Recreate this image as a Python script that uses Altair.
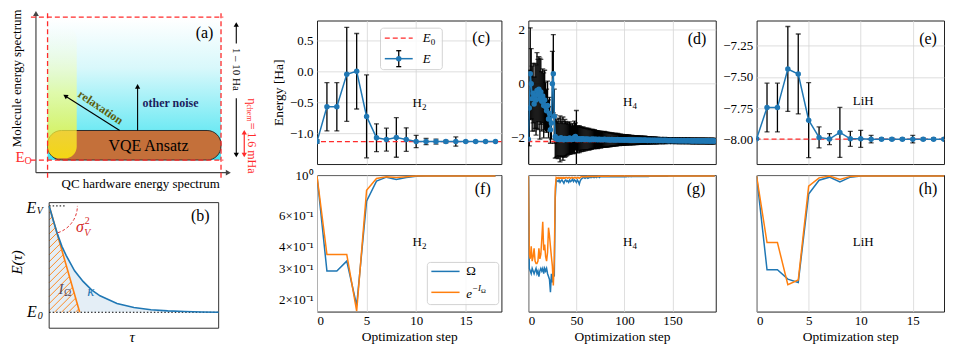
import altair as alt
import numpy as np
import pandas as pd

FONT = "Liberation Serif"
BLUE = "#1f77b4"
ORANGE = "#ff7f0e"
RED = "#ff2b2b"
GRID = "#d6d6d6"

# ---------------- data: energies (panels c, d, e) ----------------
H2_E = [-1.137, -0.575, -0.575, -0.050, 0.000, -0.730, -1.075, -1.105, -1.070, -1.105,
        -1.135, -1.137, -1.137, -1.137, -1.137, -1.137, -1.137, -1.137, -1.137]
H2_ERR = [0.03, 0.39, 0.39, 0.76, 0.61, 0.67, 0.225, 0.185, 0.32, 0.19,
          0.10, 0.05, 0.04, 0.02, 0.075, 0.01, 0.01, 0.01, 0.01]
H2_E0 = -1.137

LIH_E = [-7.995, -7.745, -7.745, -7.436, -7.476, -7.846, -7.984, -7.997, -7.944, -7.995,
         -7.995, -7.998, -7.998, -7.998, -7.998, -7.998, -7.998, -7.998, -7.998]
LIH_ERR = [0.005, 0.195, 0.195, 0.34, 0.32, 0.30, 0.084, 0.044, 0.20, 0.06,
           0.068, 0.03, 0.01, 0.01, 0.01, 0.03, 0.01, 0.01, 0.01]
LIH_E0 = -7.998

H4_E = [-2.05, -0.90, 0.37, 0.00, -0.55, -0.35, -0.75, -0.45, -0.60, -0.25,
        -0.40, -0.20, -0.55, -0.30, -0.65, -0.45, -0.80, -0.60, -0.85, -1.00,
        -0.80, -1.30, -1.10, -1.70, -1.45, 0.00, 0.37, -1.20, -1.95, -2.03,
        -2.05, -2.02, -2.06, -2.04, -2.00, -2.05, -2.03, -2.07, -2.02, -2.04,
        -2.06, -2.03, -2.05, -2.01, -2.04, -2.06, -2.03, -2.05, -1.98, -1.95,
        -2.04, -2.06, -2.03, -2.05, -2.04, -2.06, -2.03, -2.05, -2.04, -2.06,
        -2.05, -2.04, -2.06, -2.05, -2.07, -2.05, -2.06, -2.04, -2.06, -2.05,
        -2.06, -2.05, -2.07, -2.06, -2.05, -2.07, -2.06, -2.06, -2.07, -2.05,
        -2.06, -2.07, -2.06, -2.07, -2.06, -2.08, -2.07, -2.06, -2.07, -2.08,
        -2.07, -2.07, -2.08, -2.06, -2.07, -2.08, -2.07, -2.08, -2.07, -2.08,
        -2.08, -2.07, -2.08, -2.08, -2.07, -2.08, -2.09, -2.08, -2.08, -2.09,
        -2.08, -2.09, -2.08, -2.09, -2.08, -2.09, -2.09, -2.08, -2.09, -2.09,
        -2.09, -2.08, -2.09, -2.09, -2.10, -2.09, -2.09, -2.10, -2.09, -2.10,
        -2.09, -2.10, -2.09, -2.10, -2.10, -2.09, -2.10, -2.10, -2.09, -2.10,
        -2.10, -2.10, -2.09, -2.10, -2.10, -2.10, -2.11, -2.10, -2.10, -2.10,
        -2.11, -2.10, -2.10, -2.11, -2.10, -2.11, -2.10, -2.11, -2.11, -2.10,
        -2.11, -2.11, -2.10, -2.11, -2.11, -2.11, -2.10, -2.11, -2.11, -2.11,
        -2.11, -2.12, -2.11, -2.11, -2.11, -2.12, -2.11, -2.11, -2.12, -2.11,
        -2.12, -2.11, -2.11, -2.12, -2.11, -2.12, -2.12, -2.11, -2.12, -2.12,
        -2.12, -2.11, -2.12, -2.12, -2.12]
H4_ERR = [1.20, 1.40, 1.70, 1.30, 1.20, 1.10, 1.00, 1.20, 1.30, 1.40,
          1.30, 1.20, 1.50, 1.20, 1.10, 1.00, 1.20, 1.10, 0.90, 0.80,
          0.90, 0.70, 0.60, 0.50, 0.60, 1.20, 1.45, 1.00, 0.80, 0.70,
          0.65, 0.75, 0.60, 0.85, 0.70, 0.65, 0.80, 0.60, 0.70, 0.65,
          0.60, 0.60, 0.55, 0.60, 0.55, 0.50, 0.55, 0.50, 0.60, 0.50,
          1.05, 0.50, 0.45, 0.50, 0.45, 0.45, 0.42, 0.45, 0.40, 0.42,
          0.40, 0.40, 0.38, 0.40, 0.37, 0.36, 0.37, 0.35, 0.34, 0.35,
          0.33, 0.32, 0.33, 0.31, 0.30, 0.31, 0.30, 0.29, 0.28, 0.29,
          0.28, 0.27, 0.27, 0.26, 0.26, 0.25, 0.25, 0.24, 0.24, 0.23,
          0.23, 0.23, 0.22, 0.22, 0.21, 0.21, 0.21, 0.20, 0.20, 0.20,
          0.19, 0.19, 0.19, 0.18, 0.18, 0.18, 0.17, 0.17, 0.17, 0.17,
          0.16, 0.16, 0.16, 0.16, 0.15, 0.15, 0.15, 0.15, 0.14, 0.14,
          0.14, 0.14, 0.14, 0.13, 0.13, 0.13, 0.13, 0.13, 0.12, 0.12,
          0.12, 0.12, 0.12, 0.12, 0.12, 0.11, 0.11, 0.11, 0.11, 0.11,
          0.11, 0.11, 0.11, 0.11, 0.10, 0.10, 0.10, 0.10, 0.10, 0.10,
          0.10, 0.10, 0.10, 0.10, 0.10, 0.10, 0.10, 0.10, 0.10, 0.10,
          0.10, 0.10, 0.10, 0.10, 0.10, 0.10, 0.10, 0.10, 0.10, 0.10,
          0.10, 0.10, 0.10, 0.10, 0.10, 0.10, 0.10, 0.10, 0.10, 0.10,
          0.10, 0.10, 0.10, 0.10, 0.10, 0.10, 0.10, 0.10, 0.10, 0.10,
          0.10, 0.10, 0.10, 0.10, 0.10]
H4_E0 = -2.136

# ---------------- data: fidelities (panels f, g, h) ----------------
H2_OMEGA = [1.0, 0.29, 0.29, 0.33, 0.185, 0.72, 0.935, 0.985, 0.956, 0.98,
            0.998, 1.0, 1.0, 1.0, 1.0, 1.0, 1.0, 1.0, 1.0]
H2_EXPI = [1.0, 0.36, 0.36, 0.36, 0.172, 0.83, 0.968, 0.99, 0.98, 0.99,
           1.0, 1.0, 1.0, 1.0, 1.0, 1.0, 1.0, 1.0, 1.0]
LIH_OMEGA = [1.0, 0.295, 0.295, 0.261, 0.25, 0.79, 0.947, 0.985, 0.927, 0.985,
             1.0, 1.0, 1.0, 1.0, 1.0, 1.0, 1.0, 1.0, 1.0]
LIH_EXPI = [1.0, 0.42, 0.42, 0.243, 0.258, 0.876, 0.976, 1.0, 0.956, 0.995,
            1.0, 1.0, 1.0, 1.0, 1.0, 1.0, 1.0, 1.0, 1.0]
H4_OMEGA = [1.00, 0.30, 0.29, 0.28, 0.30, 0.29, 0.28, 0.29, 0.30, 0.28,
            0.29, 0.27, 0.29, 0.30, 0.29, 0.30, 0.28, 0.30, 0.29, 0.30,
            0.28, 0.27, 0.26, 0.22, 0.28, 0.25, 0.29, 0.27, 0.75, 0.95,
            0.94, 0.93, 0.95, 0.92, 0.94, 0.95, 0.93, 0.91, 0.94, 0.95,
            0.93, 0.94, 0.92, 0.95, 0.93, 0.94, 0.96, 0.93, 0.95, 0.94,
            0.92, 0.95, 0.93, 0.90, 0.94, 0.96, 0.97, 0.98, 0.98, 0.97,
            0.98, 0.98, 0.97, 0.98, 0.98, 0.98, 0.98, 0.99, 0.98, 0.98,
            0.99, 0.98, 0.99, 0.99, 0.98, 0.99, 0.99, 0.99, 0.99, 0.99,
            0.99, 0.99, 0.99, 0.99, 0.99, 0.99, 0.99, 0.99, 0.99, 0.99,
            0.99, 0.99, 0.99, 0.99, 0.99, 0.99, 0.99, 0.99, 0.99, 0.99,
            0.99, 0.99, 0.99, 0.995, 0.99, 0.995, 0.995, 0.99, 0.995, 0.995,
            0.995, 0.995, 0.995, 0.995, 0.995, 0.995, 0.995, 0.995, 0.995, 0.995,
            0.995, 0.995, 0.995, 0.995, 0.998, 0.995, 0.998, 0.998, 0.998, 0.998,
            0.998, 0.998, 0.998, 0.998, 0.998, 0.998, 0.998, 0.998, 0.998, 0.998,
            0.998, 0.998, 0.998, 0.998, 0.998, 0.998, 1.0, 1.0, 1.0, 1.0,
            1.0, 1.0, 1.0, 1.0, 1.0, 1.0, 1.0, 1.0, 1.0, 1.0,
            1.0, 1.0, 1.0, 1.0, 1.0, 1.0, 1.0, 1.0, 1.0, 1.0,
            1.0, 1.0, 1.0, 1.0, 1.0, 1.0, 1.0, 1.0, 1.0, 1.0,
            1.0, 1.0, 1.0, 1.0, 1.0, 1.0, 1.0, 1.0, 1.0, 1.0,
            1.0, 1.0, 1.0, 1.0, 1.0]
H4_EXPI = [1.00, 0.36, 0.34, 0.40, 0.33, 0.35, 0.39, 0.33, 0.32, 0.32,
           0.33, 0.39, 0.34, 0.36, 0.44, 0.55, 0.38, 0.41, 0.35, 0.33,
           0.37, 0.51, 0.46, 0.40, 0.35, 0.31, 0.24, 0.33, 0.85, 0.98,
           0.97, 0.98, 0.97, 0.98, 0.97, 0.98, 0.97, 0.98, 0.97, 0.98,
           0.98, 0.97, 0.98, 0.98, 0.97, 0.98, 0.98, 0.97, 0.98, 0.98,
           0.97, 0.98, 0.98, 0.97, 0.98, 0.99, 0.99, 0.99, 0.99, 0.99,
           0.99, 0.99, 0.995, 0.99, 0.995, 0.995, 0.995, 0.995, 0.995, 0.995,
           0.995, 0.995, 0.995, 0.998, 0.998, 0.998, 0.998, 0.998, 0.998, 0.998,
           0.998, 0.998, 0.998, 0.998, 0.998, 1.0, 1.0, 1.0, 1.0, 1.0,
           1.0, 1.0, 1.0, 1.0, 1.0, 1.0, 1.0, 1.0, 1.0, 1.0,
           1.0, 1.0, 1.0, 1.0, 1.0, 1.0, 1.0, 1.0, 1.0, 1.0,
           1.0, 1.0, 1.0, 1.0, 1.0, 1.0, 1.0, 1.0, 1.0, 1.0,
           1.0, 1.0, 1.0, 1.0, 1.0, 1.0, 1.0, 1.0, 1.0, 1.0,
           1.0, 1.0, 1.0, 1.0, 1.0, 1.0, 1.0, 1.0, 1.0, 1.0,
           1.0, 1.0, 1.0, 1.0, 1.0, 1.0, 1.0, 1.0, 1.0, 1.0,
           1.0, 1.0, 1.0, 1.0, 1.0, 1.0, 1.0, 1.0, 1.0, 1.0,
           1.0, 1.0, 1.0, 1.0, 1.0, 1.0, 1.0, 1.0, 1.0, 1.0,
           1.0, 1.0, 1.0, 1.0, 1.0, 1.0, 1.0, 1.0, 1.0, 1.0,
           1.0, 1.0, 1.0, 1.0, 1.0, 1.0, 1.0, 1.0, 1.0, 1.0,
           1.0, 1.0, 1.0, 1.0, 1.0]
FID_DOM = [0.171, 1.013]
FID_TICKS = [0.2, 0.3, 0.4, 0.6, 1.0]

# ---------------- schematic (a): diagram units ----------------
A_XDOM = [-0.2224, 0.9845]
A_YDOM = [-0.0279, 0.9770]
A_DASH = dict(x1=[-0.096, -0.096, 0.0, 1.0], y1=[1.0, 0.0, -0.1235, -0.1235],
              x2=[1.013, 1.013, 0.0, 1.0], y2=[1.0, 0.0, 1.04, 1.04])
A_AXES = dict(x1=[-0.067, -0.067], y1=[-0.0886, -0.0886], x2=[-0.067, 1.042], y2=[1.026, -0.0886])
A_ARROWS = dict(x1=[0.416, 0.519, 1.088, 1.088], y1=[0.207, 0.207, 0.816, 0.433],
                x2=[0.102, 0.519, 1.088, 1.088], y2=[0.449, 0.516, 0.949, 0.035])
A_HEADS = dict(x=[-0.067, 1.042, 0.102, 0.519, 1.088, 1.088],
               y=[1.026, -0.0886, 0.449, 0.516, 0.949, 0.035],
               ang=[0, 90, 302.5, 0, 0, 180])
A_RED_ARROW = dict(x1=[1.134], y1=[0.195], x2=[1.134], y2=[0.035])
A_RED_HEADS = dict(x=[1.134, 1.134], y=[0.195, 0.035], ang=[0, 180])

# ---------------- schematic (b) ----------------
B_XDOM = [-0.237, 0.998]
B_YDOM = [0.0066, 1.2905]
B_TAU = [0, 0.025, 0.05, 0.075, 0.1, 0.15, 0.2, 0.25, 0.3, 0.4, 0.5, 0.6, 0.7, 0.8, 0.9, 1.0]
B_ENERGY = [1.0, 0.86, 0.73, 0.62, 0.535, 0.39, 0.29, 0.21, 0.155, 0.083, 0.045, 0.024, 0.013, 0.007, 0.003, 0.0]
B_OMEGA_END = 0.18

ONE = pd.DataFrame({"k": [0]})

AXIS_FONT = dict(labelFont=FONT, titleFont=FONT, labelFontSize=13, titleFontSize=13.5,
                 labelColor="black", titleColor="black", titleFontWeight="normal", labelFontWeight="normal")


def ptext(t, x, y, size=13, color="black", style="normal", align="center", weight="normal", angle=0):
    return alt.Chart(ONE).mark_text(text=t, font=FONT, fontSize=size, color=color, fontStyle=style,
                                    align=align, baseline="middle", fontWeight=weight, angle=angle
                                    ).encode(x=alt.value(x), y=alt.value(y))


def make_xy(xdom, ydom):
    def X(f):
        return alt.X(f, scale=alt.Scale(domain=xdom, nice=False, zero=False), axis=None)

    def Y(f):
        return alt.Y(f, scale=alt.Scale(domain=ydom, nice=False, zero=False), axis=None)
    return X, Y


def dtext(X, Y, t, x, y, size=13, color="black", style="normal", weight="normal", angle=0, align="center"):
    return alt.Chart(pd.DataFrame({"x": [x], "y": [y]})).mark_text(
        text=t, font=FONT, fontSize=size, color=color, fontStyle=style, fontWeight=weight,
        angle=angle, align=align, baseline="middle").encode(x=X("x:Q"), y=Y("y:Q"))


def segs(X, Y, d, color, width, dash=None):
    kw = dict(color=color, strokeWidth=width)
    if dash:
        kw["strokeDash"] = dash
    return alt.Chart(pd.DataFrame(d)).mark_rule(**kw).encode(x=X("x1:Q"), y=Y("y1:Q"), x2="x2:Q", y2="y2:Q")


def heads(X, Y, d, color, size=30):
    return alt.Chart(pd.DataFrame(d)).mark_point(shape="triangle-up", filled=True, color=color, size=size,
                                                 opacity=1).encode(
        x=X("x:Q"), y=Y("y:Q"), angle=alt.Angle("ang:Q", scale=None))


# ---------------- panel (a) ----------------
AX, AY = make_xy(A_XDOM, A_YDOM)
cyan_grad = {"gradient": "linear", "x1": 0, "x2": 0, "y1": 0, "y2": 1,
             "stops": [{"offset": 0, "color": "#ffffff"}, {"offset": 0.35, "color": "#d8f8fb"},
                       {"offset": 1, "color": "#3fe3f0"}]}
yellow_grad = {"gradient": "linear", "x1": 0, "x2": 0, "y1": 0, "y2": 1,
               "stops": [{"offset": 0, "color": "rgba(255,255,220,0.0)"},
                         {"offset": 0.5, "color": "rgba(255,255,120,0.6)"},
                         {"offset": 1, "color": "rgba(255,240,10,0.8)"}]}
a_layers = [
    alt.Chart(pd.DataFrame({"x1": [0.0], "x2": [1.0], "y1": [0.0], "y2": [0.99]})).mark_rect(fill=cyan_grad).encode(
        x=AX("x1:Q"), x2="x2:Q", y=AY("y1:Q"), y2="y2:Q"),
    alt.Chart(pd.DataFrame({"x1": [0.0], "x2": [1.0], "y1": [0.0], "y2": [0.207]})).mark_rect(
        fill="#c4703a", stroke="#2b2b2b", strokeWidth=1, cornerRadius=14).encode(
        x=AX("x1:Q"), x2="x2:Q", y=AY("y1:Q"), y2="y2:Q"),
    alt.Chart(pd.DataFrame({"x1": [0.0], "x2": [0.168], "y1": [0.012], "y2": [0.935]})).mark_rect(
        fill=yellow_grad, cornerRadius=12).encode(x=AX("x1:Q"), x2="x2:Q", y=AY("y1:Q"), y2="y2:Q"),
    segs(AX, AY, A_AXES, "#444444", 1.2),
    heads(AX, AY, dict(x=A_HEADS["x"][:2], y=A_HEADS["y"][:2], ang=A_HEADS["ang"][:2]), "#444444", 34),
    segs(AX, AY, A_ARROWS, "black", 1.1),
    heads(AX, AY, dict(x=A_HEADS["x"][2:], y=A_HEADS["y"][2:], ang=A_HEADS["ang"][2:]), "black", 28),
    segs(AX, AY, A_RED_ARROW, RED, 1.2),
    heads(AX, AY, A_RED_HEADS, RED, 28),
    segs(AX, AY, A_DASH, RED, 1.3, [5, 3]),
    dtext(AX, AY, "VQE Ansatz", 0.582, 0.098, size=16),
    dtext(AX, AY, "(a)", 0.905, 0.886, size=16),
    dtext(AX, AY, "relaxation", 0.306, 0.37, size=12, weight="bold", color="#5c5c0a", angle=34),
    dtext(AX, AY, "other noise", 0.709, 0.398, size=12, weight="bold", color="#1c1c5c"),
    dtext(AX, AY, "1 – 10 Ha", 1.088, 0.635, size=11, angle=90),
    dtext(AX, AY, "Molecule energy spectrum", -0.177, 0.572, size=13, angle=270),
    dtext(AX, AY, "QC hardware energy spectrum", 0.537, -0.1675, size=13),
    dtext(AX, AY, "E", -0.159, 0.021, size=15, color=RED),
    dtext(AX, AY, "O", -0.113, -0.007, size=10, color=RED),
    dtext(AX, AY, "η", 1.18, 0.4327, size=12, color=RED, angle=90, align="left"),
    dtext(AX, AY, "chem", 1.163, 0.391, size=8, color=RED, angle=90, align="left"),
    dtext(AX, AY, "= 1.6 mHa", 1.18, 0.262, size=12, color=RED, angle=90, align="left"),
]
panel_a = alt.layer(*a_layers).properties(width=210, height=144, view=alt.ViewBackground(stroke="transparent"))

# ---------------- panel (b) ----------------
BX, BY = make_xy(B_XDOM, B_YDOM)
kslope = 170 / 106.7
hx1, hy1, hx2, hy2 = [], [], [], []
for c in np.arange(-1 / kslope, B_OMEGA_END, 7 / 170)[1:]:
    if c >= 0:
        x1, y1 = c, 0.0
    else:
        x1, y1 = 0.0, -kslope * c
    x2 = (1 + kslope * c) / (kslope + 1 / B_OMEGA_END)
    y2 = 1 - x2 / B_OMEGA_END
    hx1.append(x1); hy1.append(y1); hx2.append(x2); hy2.append(y2)
theta = np.radians(np.linspace(0, 72, 16))
arc = pd.DataFrame({"x": 28.3 * np.cos(theta) / 170, "y": 1 - 28.3 * np.sin(theta) / 106.7})
curve = pd.DataFrame({"x": B_TAU, "y": B_ENERGY})
b_layers = [
    alt.Chart(curve).mark_area(color=BLUE, opacity=0.12).encode(x=BX("x:Q"), y=BY("y:Q"), y2=alt.datum(0)),
    segs(BX, BY, dict(x1=hx1, y1=hy1, x2=hx2, y2=hy2), ORANGE, 0.9),
    alt.Chart(pd.DataFrame({"x1": [0.0], "x2": [1.0], "y1": [-0.15], "y2": [1.031]})).mark_rect(
        fill="transparent", stroke="#333333", strokeWidth=1).encode(x=BX("x1:Q"), x2="x2:Q", y=BY("y1:Q"), y2="y2:Q"),
    segs(BX, BY, dict(x1=[0.0, 0.0], y1=[0.0, 1.0], x2=[1.0, 0.1], y2=[0.0, 1.0]), "black", 1, [1.5, 2]),
    alt.Chart(pd.DataFrame({"x": [0.0, B_OMEGA_END], "y": [1.0, 0.0]})).mark_line(color=ORANGE, strokeWidth=1.6).encode(
        x=BX("x:Q"), y=BY("y:Q")),
    alt.Chart(curve).mark_line(color=BLUE, strokeWidth=1.6).encode(x=BX("x:Q"), y=BY("y:Q")),
    alt.Chart(arc).mark_line(color="#e03030", strokeWidth=1, strokeDash=[3, 2]).encode(x=BX("x:Q"), y=BY("y:Q")),
    dtext(BX, BY, "E", -0.105, 0.984, size=16, style="italic"),
    dtext(BX, BY, "V", -0.055, 0.953, size=10, style="italic"),
    dtext(BX, BY, "E", -0.102, 0.0, size=16, style="italic"),
    dtext(BX, BY, "0", -0.052, -0.031, size=10, style="italic"),
    dtext(BX, BY, "σ", 0.181, 0.797, size=16, style="italic", color="#d62728"),
    dtext(BX, BY, "2", 0.225, 0.859, size=10, color="#d62728"),
    dtext(BX, BY, "V", 0.225, 0.747, size=10, style="italic", color="#d62728"),
    dtext(BX, BY, "I", 0.069, 0.222, size=15, style="italic", color="#5a4a5a"),
    dtext(BX, BY, "Ω", 0.11, 0.185, size=10, color="#5a4a5a"),
    dtext(BX, BY, "κ", 0.246, 0.203, size=15, style="italic", color=BLUE),
    dtext(BX, BY, "E(τ)", -0.19, 0.469, size=15, style="italic", angle=270),
    dtext(BX, BY, "τ", 0.49, -0.237, size=15, style="italic"),
    dtext(BX, BY, "(b)", 0.892, 0.906, size=16),
]
panel_b = alt.layer(*b_layers).properties(width=210, height=137, view=alt.ViewBackground(stroke="transparent"))


# ---------------- energy panels ----------------
def energy_panel(E, err, e0, xdom, xgrid, ydom, yvals, yfmt, width, ytitle=None):
    df = pd.DataFrame({"step": list(range(len(E))), "E": E,
                       "lo": [e - s for e, s in zip(E, err)], "hi": [e + s for e, s in zip(E, err)]})
    xs = alt.Scale(domain=xdom, nice=False, zero=False)
    ys = alt.Scale(domain=ydom, nice=False, zero=False)
    xax = alt.Axis(values=xgrid, labels=False, ticks=False, domain=False, grid=True, title=None, **AXIS_FONT)
    yax = alt.Axis(values=yvals, format=yfmt, ticks=False, domain=False, grid=True, title=ytitle,
                   labelPadding=4, titlePadding=4, **AXIS_FONT)
    X = alt.X("step:Q", scale=xs, axis=xax)

    def Y(f):
        return alt.Y(f, scale=ys, axis=yax)
    base = alt.Chart(df)
    return [
        base.mark_rule(color="black", strokeWidth=1.3, clip=True).encode(x=X, y=Y("lo:Q"), y2="hi:Q"),
        base.mark_tick(orient="horizontal", color="black", size=5, thickness=1.3, clip=True).encode(x=X, y=Y("lo:Q")),
        base.mark_tick(orient="horizontal", color="black", size=5, thickness=1.3, clip=True).encode(x=X, y=Y("hi:Q")),
        alt.Chart(pd.DataFrame({"e0": [e0]})).mark_rule(color=RED, strokeDash=[5, 3], strokeWidth=1.3).encode(
            y=Y("e0:Q")),
        base.mark_line(color=BLUE, strokeWidth=1.5, clip=True).encode(x=X, y=Y("E:Q")),
        base.mark_circle(color=BLUE, size=30, opacity=1, clip=True).encode(x=X, y=Y("E:Q")),
    ]


def fid_panel(om, ex, xdom, xvals, width, labels=True):
    df = pd.DataFrame({"step": list(range(len(om))), "om": om, "ex": ex})
    xs = alt.Scale(domain=xdom, nice=False, zero=False)
    ys = alt.Scale(type="log", domain=FID_DOM, nice=False)
    xax = alt.Axis(values=xvals, format="d", ticks=False, domain=False, grid=True, title="Optimization step",
                   labelPadding=3, titlePadding=2, **AXIS_FONT)
    yax = alt.Axis(values=FID_TICKS, labels=labels, ticks=False, domain=False, grid=False, title=None,
                   labelPadding=4,
                   labelExpr="datum.value > 0.99 ? '10⁰' : format(datum.value * 10, '.0f') + '×10⁻¹'",
                   **AXIS_FONT)
    X = alt.X("step:Q", scale=xs, axis=xax)

    def Y(f):
        return alt.Y(f, scale=ys, axis=yax)
    base = alt.Chart(df)
    return [
        alt.Chart(pd.DataFrame({"g": [1.0]})).mark_rule(color=GRID, strokeWidth=0.8).encode(y=Y("g:Q")),
        base.mark_line(color=BLUE, strokeWidth=1.5, clip=True).encode(x=X, y=Y("om:Q")),
        base.mark_line(color=ORANGE, strokeWidth=1.5, clip=True).encode(x=X, y=Y("ex:Q")),
    ]


def sub_label(main, sub, x_left, y, main_w):
    return [ptext(main, x_left, y, size=13, align="left"),
            ptext(sub, x_left + main_w, y + 4, size=9, align="left")]


# (c)
c_layers = energy_panel(H2_E, H2_ERR, H2_E0, [0, 18.6], [5, 10, 15], [-1.5, 0.82],
                        [0.5, 0.0, -0.5, -1.0], ".1f", 185, ytitle="Energy [Ha]")
c_layers += sub_label("H", "2", 95.7, 82.7, 9.6)
c_layers += [ptext("(c)", 164.7, 17.7, size=16)]
c_layers += [
    alt.Chart(ONE).mark_rect(fill="white", opacity=0.85, stroke="#cccccc", strokeWidth=1, cornerRadius=3).encode(
        x=alt.value(63.7), x2=alt.value(125.7), y=alt.value(7.7), y2=alt.value(49.3)),
    alt.Chart(ONE).mark_rule(color=RED, strokeDash=[5, 3], strokeWidth=1.3).encode(
        x=alt.value(68), x2=alt.value(96), y=alt.value(17.7)),
    alt.Chart(ONE).mark_rule(color=BLUE, strokeWidth=1.5).encode(x=alt.value(68), x2=alt.value(96), y=alt.value(38.3)),
    alt.Chart(ONE).mark_rule(color="black", strokeWidth=1.3).encode(x=alt.value(82), y=alt.value(30.3), y2=alt.value(46.3)),
    alt.Chart(ONE).mark_rule(color="black", strokeWidth=1.3).encode(x=alt.value(79.5), x2=alt.value(84.5), y=alt.value(30.3)),
    alt.Chart(ONE).mark_rule(color="black", strokeWidth=1.3).encode(x=alt.value(79.5), x2=alt.value(84.5), y=alt.value(46.3)),
    alt.Chart(ONE).mark_circle(color=BLUE, size=30, opacity=1).encode(x=alt.value(82), y=alt.value(38.3)),
    ptext("E", 106, 17.7, size=13, style="italic", align="left"),
    ptext("0", 114, 21.5, size=9, align="left"),
    ptext("E", 106, 38.3, size=13, style="italic", align="left"),
]
panel_c = alt.layer(*c_layers).properties(width=185, height=144)

# (d)
d_layers = energy_panel(H4_E, H4_ERR, H4_E0, [0, 195], [50, 100, 150], [-2.97, 2.34],
                        [2, 0, -2], "d", 188)
d_layers += sub_label("H", "4", 95.0, 81.7, 9.6)
d_layers += [ptext("(d)", 169.3, 18.3, size=16)]
panel_d = alt.layer(*d_layers).properties(width=188, height=144)

# (e)
e_layers = energy_panel(LIH_E, LIH_ERR, LIH_E0, [0, 18], [5, 10, 15], [-8.197, -7.048],
                        [-7.25, -7.5, -7.75, -8.0], ".2f", 188)
e_layers += [ptext("LiH", 107, 80.3, size=13), ptext("(e)", 172, 18.3, size=16)]
panel_e = alt.layer(*e_layers).properties(width=188, height=144)

# (f)
f_layers = fid_panel(H2_OMEGA, H2_EXPI, [0, 18.6], [0, 5, 10, 15], 185, labels=True)
f_layers += sub_label("H", "2", 95.7, 67.7, 9.6)
f_layers += [ptext("(f)", 166.3, 14.3, size=16)]
f_layers += [
    alt.Chart(ONE).mark_rect(fill="white", opacity=0.85, stroke="#cccccc", strokeWidth=1, cornerRadius=3).encode(
        x=alt.value(110.7), x2=alt.value(182.3), y=alt.value(87.7), y2=alt.value(130)),
    alt.Chart(ONE).mark_rule(color=BLUE, strokeWidth=1.5).encode(x=alt.value(114.7), x2=alt.value(143), y=alt.value(96.7)),
    alt.Chart(ONE).mark_rule(color=ORANGE, strokeWidth=1.5).encode(x=alt.value(114.7), x2=alt.value(143), y=alt.value(117.7)),
    ptext("Ω", 149.7, 96.7, size=13, align="left"),
    ptext("e", 149.7, 119, size=13, style="italic", align="left"),
    ptext("−I", 155.5, 113, size=9, style="italic", align="left"),
    ptext("Ω", 164.5, 116, size=6.5, align="left"),
]
panel_f = alt.layer(*f_layers).properties(width=185, height=137)

# (g)
g_layers = fid_panel(H4_OMEGA, H4_EXPI, [0, 195], [0, 50, 100, 150], 188, labels=False)
g_layers += sub_label("H", "4", 95.0, 67.7, 9.6)
g_layers += [ptext("(g)", 168.3, 14.3, size=16)]
panel_g = alt.layer(*g_layers).properties(width=188, height=137)

# (h)
h_layers = fid_panel(LIH_OMEGA, LIH_EXPI, [0, 18], [0, 5, 10, 15], 188, labels=False)
h_layers += [ptext("LiH", 107, 67.7, size=13), ptext("(h)", 172, 14.3, size=16)]
panel_h = alt.layer(*h_layers).properties(width=188, height=137)


def spacer(w, h):
    return alt.Chart(ONE).mark_point(opacity=0).encode(
        x=alt.X("k:Q", axis=None), y=alt.Y("k:Q", axis=None)).properties(
        width=w, height=h, view=alt.ViewBackground(stroke="transparent"))


cells = [panel_a, spacer(99, 144), panel_c, spacer(27, 144), panel_d, spacer(41, 144), panel_e,
         panel_b, spacer(99, 137), panel_f, spacer(27, 137), panel_g, spacer(41, 137), panel_h]

chart = alt.concat(*cells, columns=7, spacing={"row": 11, "column": 0}, bounds="flush", padding=0)
chart = chart.configure(font=FONT).configure_axis(
    labelFont=FONT, titleFont=FONT, labelFontSize=13, titleFontSize=13.5, labelColor="black",
    titleColor="black", gridColor=GRID, gridWidth=0.8, titleFontWeight="normal"
).configure_view(stroke="#222222", strokeWidth=1)

chart.save("out.html", embed_options={"renderer": "svg", "actions": False})
